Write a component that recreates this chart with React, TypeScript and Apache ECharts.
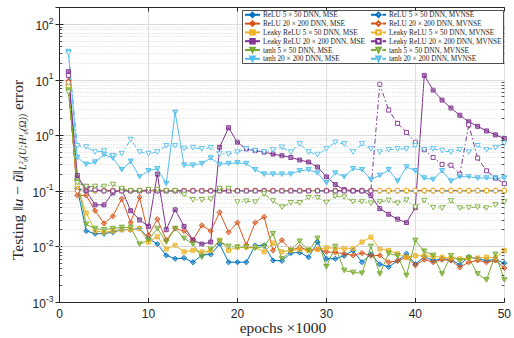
import React, { useEffect, useRef } from "react";
import * as echarts from "echarts";

const epochs = [1,2,3,4,5,6,7,8,9,10,11,12,13,14,15,16,17,18,19,20,21,22,23,24,25,26,27,28,29,30,31,32,33,34,35,36,37,38,39,40,41,42,43,44,45,46,47,48,49,50];
const xTicks = [0, 10, 20, 30, 40, 50];

const reluSmallMse = [8,0.11,0.019,0.017,0.017,0.018,0.02,0.02,0.021,0.014, 0.011,0.0069,0.006,0.0062,0.0052,0.007,0.0072,0.011,0.0052,0.0052, 0.0052,0.0104,0.0104,0.0056,0.0055,0.0076,0.0078,0.0064,0.012,0.006, 0.006,0.0068,0.0085,0.0052,0.0072,0.0048,0.0043,0.0055,0.0074,0.0048, 0.0065,0.0056,0.006,0.0058,0.0047,0.0065,0.006,0.0056,0.0058,0.005];
const reluSmallMvnse = [8,0.11,0.1,0.1,0.1,0.1,0.1,0.1,0.1,0.1, 0.1,0.1,0.1,0.1,0.1,0.1,0.1,0.1,0.1,0.1, 0.1,0.1,0.1,0.1,0.1,0.1,0.1,0.1,0.1,0.1, 0.1,0.1,0.1,0.1,0.1,0.1,0.1,0.1,0.1,0.1, 0.1,0.1,0.1,0.1,0.1,0.1,0.1,0.1,0.1,0.1];
const reluLargeMse = [9.5,0.083,0.083,0.044,0.026,0.035,0.072,0.027,0.077,0.016, 0.031,0.013,0.021,0.019,0.013,0.024,0.019,0.041,0.018,0.027, 0.0106,0.027,0.034,0.0085,0.013,0.0085,0.0097,0.0085,0.009,0.008, 0.0078,0.0074,0.0069,0.0076,0.0068,0.0069,0.0052,0.0055,0.0064,0.0046, 0.0058,0.0052,0.0058,0.0056,0.0042,0.0052,0.0056,0.0052,0.0056,0.0041];
const reluLargeMvnse = [9,0.1,0.102,0.102,0.102,0.102,0.102,0.102,0.102,0.102, 0.102,0.102,0.102,0.102,0.102,0.102,0.102,0.102,0.102,0.102, 0.102,0.102,0.102,0.102,0.102,0.102,0.102,0.102,0.102,0.102, 0.102,0.102,0.102,0.102,0.102,0.102,0.102,0.102,0.102,0.102, 0.102,0.102,0.102,0.102,0.102,0.102,0.102,0.102,0.102,0.102];
const leakySmallMse = [7,0.12,0.04,0.019,0.018,0.019,0.02,0.02,0.021,0.012, 0.015,0.009,0.0105,0.008,0.0085,0.008,0.0085,0.013,0.0085,0.0097, 0.0097,0.0097,0.008,0.0115,0.008,0.0085,0.0088,0.0085,0.0088,0.0095, 0.0093,0.0093,0.0092,0.012,0.0147,0.009,0.0085,0.0074,0.0064,0.0068, 0.0068,0.0066,0.0064,0.0062,0.006,0.0062,0.0062,0.0064,0.0062,0.0085];
const leakySmallMvnse = [7.5,0.13,0.101,0.101,0.101,0.101,0.101,0.101,0.101,0.101, 0.101,0.101,0.101,0.101,0.101,0.101,0.101,0.101,0.101,0.101, 0.101,0.101,0.101,0.101,0.101,0.101,0.101,0.101,0.101,0.101, 0.101,0.101,0.101,0.101,0.101,0.101,0.101,0.101,0.101,0.101, 0.101,0.101,0.101,0.101,0.101,0.101,0.101,0.101,0.101,0.101];
const leakyLargeMse = [14,0.19,0.1,0.056,0.056,0.092,0.105,0.044,0.03,0.023, 0.2,0.02,0.046,0.023,0.013,0.011,0.012,0.61,1.37,0.75, 0.57,0.53,0.5,0.46,0.43,0.4,0.36,0.33,0.27,0.18, 0.13,0.105,0.1,0.1,0.082,0.048,0.038,0.031,0.027,0.05, 12,6.5,4.3,3.1,2.3,1.75,1.45,1.2,1.02,0.88];
const leakyLargeMvnse = [12,0.16,0.12,0.105,0.1,0.1,0.1,0.1,0.1,0.1, 0.1,0.1,0.1,0.1,0.1,0.1,0.1,0.1,0.1,0.1, 0.1,0.1,0.1,0.1,0.1,0.1,0.1,0.1,0.1,0.1, 0.1,0.1,0.1,0.1,0.1,8.3,2.85,1.64,1.13,0.75, 0.55,0.4,0.3,0.29,0.2,1.55,0.39,0.23,0.17,0.135];
const tanhSmallMse = [6.5,0.15,0.025,0.021,0.02,0.021,0.022,0.022,0.011,0.013, 0.021,0.012,0.021,0.014,0.011,0.0064,0.009,0.0124,0.01,0.0097, 0.0097,0.0093,0.01,0.017,0.006,0.0085,0.0124,0.0085,0.014,0.0043, 0.01,0.0037,0.0034,0.0033,0.01,0.0032,0.0075,0.0068,0.003,0.0128, 0.0082,0.0069,0.0032,0.0068,0.0055,0.0062,0.0032,0.0025,0.0072,0.0025];
const tanhSmallMvnse = [6,0.14,0.12,0.12,0.12,0.13,0.11,0.1,0.1,0.105, 0.105,0.1,0.1,0.086,0.069,0.069,0.071,0.11,0.11,0.063, 0.065,0.063,0.088,0.066,0.051,0.061,0.061,0.075,0.075,0.062, 0.08,0.077,0.064,0.064,0.06,0.064,0.067,0.06,0.068,0.051, 0.067,0.05,0.049,0.066,0.049,0.05,0.051,0.049,0.056,0.063];
const tanhLargeMse = [32,0.4,0.3,0.33,0.45,0.39,0.24,0.34,0.18,0.23, 0.25,0.135,2.6,0.29,0.29,0.31,0.39,0.3,0.31,0.32, 0.31,0.24,0.2,0.2,0.2,0.2,0.23,0.24,0.21,0.14, 0.21,0.18,0.25,0.24,0.16,0.19,0.24,0.15,0.27,0.23, 0.17,0.16,0.23,0.15,0.18,0.18,0.17,0.17,0.17,0.17];
const tanhLargeMvnse = [30,0.65,0.62,0.5,0.52,0.43,0.47,0.84,0.5,0.47, 0.5,0.65,0.65,0.58,0.6,0.57,0.6,0.46,0.46,0.5, 0.57,0.53,0.5,0.55,0.61,0.5,0.7,0.5,0.45,0.57, 0.75,0.7,0.5,0.7,0.57,0.5,0.55,0.57,0.57,0.65, 0.55,0.57,0.53,0.5,0.55,0.5,0.65,0.55,0.6,0.72];

const BLUE = "#0072BD", ORANGE = "#D95319", YELLOW = "#EDB120", PURPLE = "#7E2F8E", GREEN = "#77AC30", CYAN = "#4DBEEE";
const TRI = "path://M0,0L10,0L5,8.66Z";

const seriesDefs = [
  { name: "ReLU 5 × 50 DNN, MSE", data: reluSmallMse, color: BLUE, symbol: "diamond", dashed: false },
  { name: "ReLU 5 × 50 DNN, MVNSE", data: reluSmallMvnse, color: BLUE, symbol: "diamond", dashed: true },
  { name: "ReLU 20 × 200 DNN, MSE", data: reluLargeMse, color: ORANGE, symbol: "diamond", dashed: false },
  { name: "ReLU 20 × 200 DNN, MVNSE", data: reluLargeMvnse, color: ORANGE, symbol: "diamond", dashed: true },
  { name: "Leaky ReLU 5 × 50 DNN, MSE", data: leakySmallMse, color: YELLOW, symbol: "rect", dashed: false },
  { name: "Leaky ReLU 5 × 50 DNN, MVNSE", data: leakySmallMvnse, color: YELLOW, symbol: "rect", dashed: true },
  { name: "Leaky ReLU 20 × 200 DNN, MSE", data: leakyLargeMse, color: PURPLE, symbol: "rect", dashed: false },
  { name: "Leaky ReLU 20 × 200 DNN, MVNSE", data: leakyLargeMvnse, color: PURPLE, symbol: "rect", dashed: true },
  { name: "tanh 5 × 50 DNN, MSE", data: tanhSmallMse, color: GREEN, symbol: TRI, dashed: false },
  { name: "tanh 5 × 50 DNN, MVNSE", data: tanhSmallMvnse, color: GREEN, symbol: TRI, dashed: true },
  { name: "tanh 20 × 200 DNN, MSE", data: tanhLargeMse, color: CYAN, symbol: TRI, dashed: false },
  { name: "tanh 20 × 200 DNN, MVNSE", data: tanhLargeMvnse, color: CYAN, symbol: TRI, dashed: true },
];

function alpha(hex: string, a: number) {
  const n = parseInt(hex.slice(1), 16);
  return `rgba(${(n >> 16) & 255},${(n >> 8) & 255},${n & 255},${a})`;
}

const minorValues: number[] = [];
for (let k = -3; k <= 1; k++) for (let m = 2; m <= 9; m++) minorValues.push(+(m * Math.pow(10, k)).toPrecision(3));

const AXIS = "#262626";
const SANS = "Liberation Sans, Arial, sans-serif";
const SERIF = "Liberation Serif, Times New Roman, serif";

export default function App() {
  const ref = useRef<HTMLDivElement>(null);
  useEffect(() => {
    if (!ref.current) return;
    const chart = echarts.init(ref.current, undefined, { renderer: "svg" });
    const series: any[] = seriesDefs.map((s) => ({
      type: "line",
      name: s.name,
      data: epochs.map((e, i) => [e, s.data[i]]),
      symbol: s.symbol,
      symbolSize: s.symbol === "rect" ? 4 : s.symbol === "diamond" ? 5.2 : [5.2, 4.6],
      itemStyle: {
        color: s.dashed ? "#ffffff" : alpha(s.color, 0.55),
        borderColor: s.color,
        borderWidth: 0.9,
      },
      lineStyle: { color: s.color, width: 1, type: s.dashed ? [5, 2.5, 1.5, 2.5] : "solid" },
      z: 3,
    }));
    series.push({
      type: "line",
      name: "_grid",
      data: [],
      silent: true,
      z: 1,
      markLine: {
        silent: true,
        symbol: "none",
        label: { show: false },
        animation: false,
        data: [
          ...minorValues.map((v) => ({ yAxis: v, lineStyle: { color: "#cfcfcf", width: 0.8, type: [1, 2] } })),
          ...minorValues.map((v) => [
            { coord: [0, v], lineStyle: { color: AXIS, width: 0.8, type: "solid" } },
            { coord: [0.3, v] },
          ]),
          ...minorValues.map((v) => [
            { coord: [49.7, v], lineStyle: { color: AXIS, width: 0.8, type: "solid" } },
            { coord: [50, v] },
          ]),
        ],
      },
    });

    const legendCommon = {
      orient: "vertical",
      top: 11.3,
      padding: 0,
      itemWidth: 15,
      itemHeight: 5.5,
      itemGap: 1.8,
      selectedMode: false,
      z: 60,
      textStyle: { fontFamily: SERIF, fontSize: 7.3, lineHeight: 7, color: AXIS, padding: [0, 0, 0, -2] },
    };

    chart.setOption({
      animation: false,
      backgroundColor: "#ffffff",
      grid: { left: 59.5, right: 7.5, top: 7.5, bottom: 36 },
      legend: [
        { ...legendCommon, left: 244, data: seriesDefs.filter((s) => !s.dashed).map((s) => s.name) },
        { ...legendCommon, left: 370, data: seriesDefs.filter((s) => s.dashed).map((s) => s.name) },
      ],
      xAxis: [
        {
          type: "value", min: xTicks[0], max: xTicks[xTicks.length - 1], interval: 10,
          axisLine: { lineStyle: { color: AXIS, width: 1 } },
          axisTick: { inside: true, length: 4, lineStyle: { color: AXIS } },
          axisLabel: { color: AXIS, fontFamily: SANS, fontSize: 12, margin: 6 },
          splitLine: { show: true, lineStyle: { color: "#dedede", width: 1 } },
        },
        {
          type: "value", position: "top", min: 0, max: 50, interval: 10,
          axisLine: { show: true, lineStyle: { color: AXIS, width: 1 } },
          axisTick: { inside: true, length: 4, lineStyle: { color: AXIS } },
          axisLabel: { show: false }, splitLine: { show: false },
        },
      ],
      yAxis: [
        {
          type: "log", min: 0.001, max: 200, logBase: 10,
          axisLine: { show: true, lineStyle: { color: AXIS, width: 1 } },
          axisTick: { inside: true, length: 4, lineStyle: { color: AXIS } },
          axisLabel: {
            color: AXIS, margin: 6,
            formatter: (v: number) => {
              const l = Math.log10(v);
              const k = Math.round(l);
              if (Math.abs(l - k) > 1e-6) return "";
              return `{b|10}{s|${k}}`;
            },
            rich: {
              b: { fontFamily: SANS, fontSize: 12, lineHeight: 16, verticalAlign: "bottom", color: AXIS },
              s: { fontFamily: SANS, fontSize: 8.5, lineHeight: 16, verticalAlign: "top", color: AXIS },
            },
          },
          splitLine: { show: true, lineStyle: { color: "#dcdcdc", width: 1 } },
        },
        {
          type: "log", min: 0.001, max: 200, logBase: 10, position: "right",
          axisLine: { show: true, lineStyle: { color: AXIS, width: 1 } },
          axisTick: { inside: true, length: 4, lineStyle: { color: AXIS } },
          axisLabel: { show: false }, splitLine: { show: false },
        },
      ],
      graphic: [
        {
          type: "rect", z: 50,
          shape: { x: 242.5, y: 10.5, width: 261, height: 53 },
          style: { fill: "#ffffff", stroke: AXIS, lineWidth: 0.8 },
        },
        {
          type: "text", x: 283, y: 327, z: 50,
          style: {
            text: "epochs ×1000", fontFamily: SERIF, fontSize: 15.5, fill: AXIS,
            align: "center", verticalAlign: "middle",
          },
        },
        {
          type: "text", x: 17, y: 170, rotation: Math.PI / 2, z: 50,
          style: {
            text: "{m|Testing ‖}{i|u}{m| − }{i|ũ}{m|‖}{s|L²ᵨ(U;H¹₀(Ω))}{m| error}",
            align: "center", verticalAlign: "middle", fill: AXIS,
            rich: {
              m: { fontFamily: SERIF, fontSize: 15.5, lineHeight: 20, verticalAlign: "middle", fill: AXIS, color: AXIS },
              i: { fontFamily: SERIF, fontSize: 15.5, fontStyle: "italic", lineHeight: 20, verticalAlign: "middle", fill: AXIS, color: AXIS },
              s: { fontFamily: SERIF, fontSize: 10, fontStyle: "italic", lineHeight: 20, verticalAlign: "bottom", fill: AXIS, color: AXIS },
            },
          },
        },
      ],
      series,
    });
    return () => chart.dispose();
  }, []);
  return <div ref={ref} style={{ position: "fixed", left: 0, top: 0, width: 514, height: 338 }} />;
}
